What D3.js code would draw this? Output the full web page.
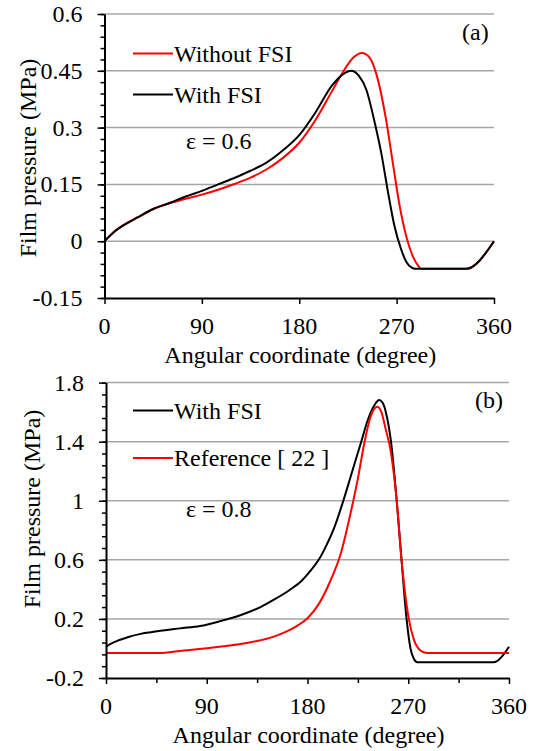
<!DOCTYPE html>
<html><head><meta charset="UTF-8"><script src="https://cdnjs.cloudflare.com/ajax/libs/d3/7.8.5/d3.min.js"></script></head>
<body style="margin:0">
<svg id="chart" width="534" height="751" font-family="Liberation Serif"></svg>
<script>
// panel (a), eps = 0.6
var degA = [0, 10, 20, 30, 45, 60, 75, 90, 105, 120, 135, 150, 165, 180, 195, 210, 220, 228, 235, 242, 250, 256, 262, 268, 274, 279, 284, 287, 334, 360];
var withFsiA = [0, 0.027, 0.046, 0.062, 0.085, 0.101, 0.118, 0.133, 0.15, 0.167, 0.186, 0.208, 0.24, 0.28, 0.34, 0.41, 0.44, 0.45, 0.437, 0.4, 0.31, 0.23, 0.13, 0.04, -0.02, -0.055, -0.07, -0.073, -0.073, 0];
var degA2 = [0, 10, 20, 30, 45, 60, 75, 90, 105, 120, 135, 150, 165, 180, 195, 210, 220, 230, 238, 245, 252, 260, 267, 273, 279, 285, 290, 293, 334, 360];
var withoutFsiA = [0, 0.028, 0.047, 0.062, 0.085, 0.1, 0.112, 0.123, 0.136, 0.151, 0.168, 0.19, 0.22, 0.26, 0.32, 0.395, 0.445, 0.485, 0.497, 0.485, 0.434, 0.325, 0.197, 0.09, 0.012, -0.04, -0.065, -0.073, -0.073, 0];

// panel (b), eps = 0.8
var degB = [0, 5, 12, 20, 30, 40, 66, 84, 102, 120, 138, 150, 164, 175, 182, 190, 197, 204, 212, 220, 228, 234, 240, 244, 247, 250, 254.6, 259.7, 264, 268.5, 272, 275, 278, 346, 360];
var withFsiB = [0.012, 0.035, 0.057, 0.078, 0.097, 0.11, 0.136, 0.152, 0.185, 0.225, 0.28, 0.33, 0.396, 0.46, 0.52, 0.6, 0.7, 0.82, 1.0, 1.2, 1.4, 1.55, 1.65, 1.682, 1.665, 1.6, 1.4, 1.0, 0.6, 0.2, 0.0, -0.07, -0.094, -0.094, 0.012];
var degB2 = [0, 50, 60, 75, 90, 105, 120, 135, 150, 160, 170, 180, 190, 200, 210, 218, 225, 231, 236, 240, 242.5, 246, 250, 254, 259.7, 264, 270.5, 275, 279, 282, 287, 360];
var referenceB = [-0.031, -0.031, -0.022, -0.01, 0.002, 0.015, 0.03, 0.05, 0.08, 0.11, 0.15, 0.205, 0.3, 0.45, 0.65, 0.9, 1.15, 1.4, 1.56, 1.625, 1.637, 1.6, 1.48, 1.35, 1.0, 0.6, 0.2, 0.06, 0.0, -0.02, -0.031, -0.031];

var xTicks = [0, 90, 180, 270, 360];
var yTicksA = [-0.15, 0, 0.15, 0.3, 0.45, 0.6];
var yTicksB = [-0.2, 0.2, 0.6, 1, 1.4, 1.8];

var svg = d3.select("#chart");
var FS = "24px";
var FONT = "'Liberation Serif'";

function zip(xs, ys) {
    return xs.map(function (d, i) { return [d, ys[i]]; });
}

function label(x, y, s) {
    return svg.append("text")
        .attr("x", x).attr("y", y)
        .style("font-family", FONT)
        .style("font-size", FS)
        .text(s);
}

function drawPanel(opt) {
    var x = d3.scaleLinear().domain([0, 360]).range([opt.x0, opt.x1]);
    var y = d3.scaleLinear().domain(opt.yDomain).range([opt.yBottom, opt.yTop]);

    // grid
    opt.yTicks.filter(function (d) { return d !== opt.yDomain[0]; }).forEach(function (d) {
        svg.append("line")
            .attr("x1", opt.x0).attr("x2", opt.x1)
            .attr("y1", y(d)).attr("y2", y(d))
            .attr("stroke", "#a6a6a6").attr("stroke-width", 1.5);
    });

    // curves
    var line = d3.line()
        .x(function (d) { return x(d[0]); })
        .y(function (d) { return y(d[1]); })
        .curve(d3.curveMonotoneX);
    opt.series.forEach(function (s) {
        svg.append("path")
            .attr("d", line(s.data))
            .attr("fill", "none")
            .attr("stroke", s.color)
            .attr("stroke-width", 2);
    });

    // minor y ticks
    svg.append("g")
        .attr("transform", "translate(" + opt.x0 + ",0)")
        .call(d3.axisLeft(y).tickValues(opt.yMinor).tickSize(4).tickFormat(""))
        .call(function (a) { a.select(".domain").remove(); a.selectAll("line").attr("stroke-width", 1.5); });

    // minor x ticks
    if (opt.xMinor) {
        svg.append("g")
            .attr("transform", "translate(0," + opt.yBottom + ")")
            .call(d3.axisBottom(x).tickValues(opt.xMinor).tickSize(5).tickFormat(""))
            .call(function (a) { a.select(".domain").remove(); a.selectAll("line").attr("stroke-width", 1.5); });
    }

    // axes lines and major ticks (labels drawn separately)
    svg.append("g")
        .attr("transform", "translate(" + opt.x0 + ",0)")
        .call(d3.axisLeft(y).tickValues(opt.yTicks).tickSize(7).tickSizeOuter(0).tickFormat(""))
        .call(function (a) { a.select(".domain").attr("stroke-width", 2); a.selectAll("line").attr("stroke-width", 1.5); });
    svg.append("g")
        .attr("transform", "translate(0," + opt.yBottom + ")")
        .call(d3.axisBottom(x).tickValues(xTicks).tickSize(6).tickSizeOuter(0).tickFormat(""))
        .call(function (a) { a.select(".domain").attr("stroke-width", 2); a.selectAll("line").attr("stroke-width", 1.5); });

    // tick labels
    opt.yTicks.forEach(function (d) {
        label(opt.x0 - 22, y(d), String(+d.toFixed(2)))
            .attr("text-anchor", "end")
            .attr("dy", "0.33em");
    });
    xTicks.forEach(function (d) {
        label(x(d), opt.yBottom + 36, String(d))
            .attr("text-anchor", "middle");
    });

    // axis titles
    label((opt.x0 + opt.x1) / 2 + 1, opt.xTitleY, "Angular coordinate (degree)")
        .attr("text-anchor", "middle");
    label(0, 0, "Film pressure (MPa)")
        .attr("transform", "translate(" + opt.yTitleX + "," + opt.yTitleY + ") rotate(-90)")
        .attr("text-anchor", "middle")
        .attr("dy", "0.35em");

    // legend
    opt.series.forEach(function (s, i) {
        var ly = opt.legendY[i];
        svg.append("line")
            .attr("x1", opt.legendX).attr("x2", opt.legendX + 40)
            .attr("y1", ly).attr("y2", ly)
            .attr("stroke", s.color).attr("stroke-width", 2);
        label(opt.legendX + 41, ly + 8, s.name);
    });

    label(opt.epsX, opt.epsY, opt.eps);
    label(opt.tagX, opt.tagY, opt.tag);
}

drawPanel({
    x0: 104.5, x1: 494, yTop: 14, yBottom: 298,
    yDomain: [-0.15, 0.6], yTicks: yTicksA,
    yMinor: d3.range(-0.15, 0.6001, 0.03),
    xMinor: null,
    series: [
        {name: "Without FSI", color: "#ff0000", data: zip(degA2, withoutFsiA)},
        {name: "With FSI", color: "#000000", data: zip(degA, withFsiA)}
    ],
    legendX: 133, legendY: [53.5, 94.5],
    xTitleY: 363, yTitleX: 28, yTitleY: 158,
    eps: "\u03b5 = 0.6", epsX: 186, epsY: 149,
    tag: "(a)", tagX: 462, tagY: 40
});

drawPanel({
    x0: 106, x1: 509, yTop: 382.6, yBottom: 678,
    yDomain: [-0.2, 1.8], yTicks: yTicksB,
    yMinor: d3.range(-0.2, 1.8001, 0.08),
    xMinor: d3.range(45, 360, 90),
    series: [
        {name: "With FSI", color: "#000000", data: zip(degB, withFsiB)},
        {name: "Reference [ 22 ]", color: "#ff0000", data: zip(degB2, referenceB)}
    ],
    legendX: 133, legendY: [410.5, 458],
    xTitleY: 743, yTitleX: 32, yTitleY: 509,
    eps: "\u03b5 = 0.8", epsX: 186, epsY: 517,
    tag: "(b)", tagX: 475, tagY: 408
});
</script>
</body>
</html>
